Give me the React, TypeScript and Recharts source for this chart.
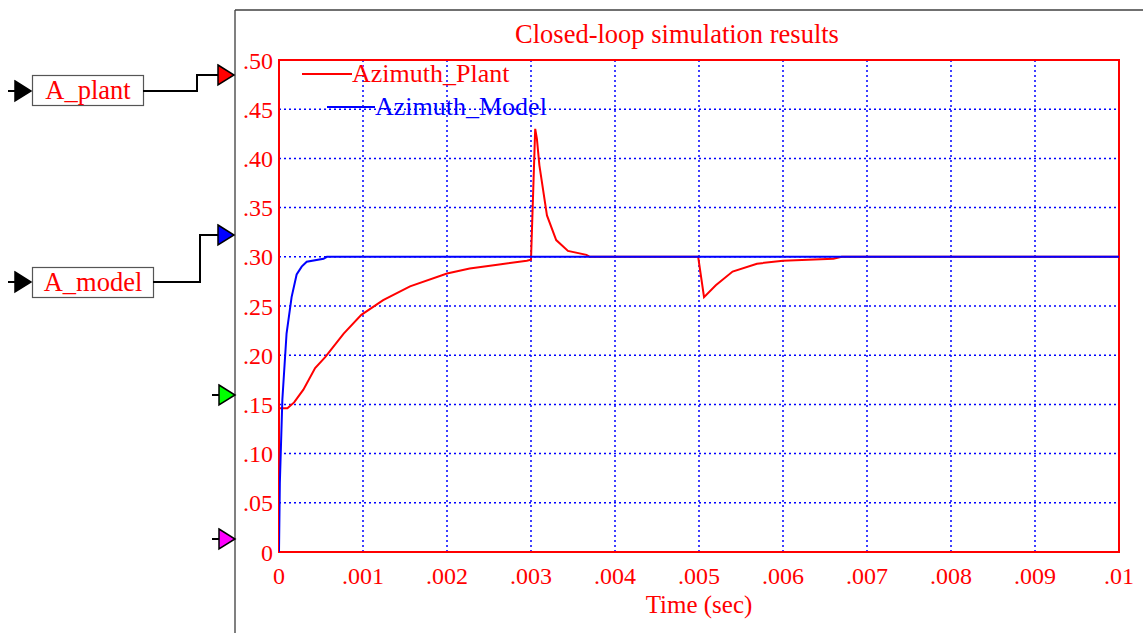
import React from "react";
import {
  LineChart,
  Line,
  XAxis,
  YAxis,
  CartesianGrid,
  ReferenceArea,
  Legend,
} from "recharts";

// Azimuth_Plant: (t in s, value)
const plantT = [
  0, 0, 0.0001, 0.00018, 0.00029, 0.00043, 0.00055, 0.00077, 0.00098, 0.00124,
  0.00156, 0.002, 0.00227, 0.0026, 0.00295, 0.003, 0.00305, 0.00307, 0.0031,
  0.00319, 0.0033, 0.00344, 0.00366, 0.0037, 0.00499, 0.00506, 0.0052, 0.0054,
  0.00569, 0.006, 0.0066, 0.0067, 0.01,
];
const plantV = [
  0, 0.146, 0.146, 0.152, 0.165, 0.187, 0.198, 0.222, 0.241, 0.256, 0.27,
  0.283, 0.288, 0.292, 0.296, 0.297, 0.43, 0.42, 0.393, 0.342, 0.317, 0.306,
  0.302, 0.3, 0.3, 0.259, 0.271, 0.285, 0.293, 0.296, 0.298, 0.3, 0.3,
];

// Azimuth_Model
const modelT = [
  0, 0.00001, 0.00004, 0.00009, 0.00015, 0.00021, 0.00027, 0.00033, 0.00053,
  0.00057, 0.01,
];
const modelV = [0, 0.07, 0.155, 0.222, 0.259, 0.282, 0.29, 0.295, 0.298, 0.3, 0.3];

const xTicks = [0, 0.001, 0.002, 0.003, 0.004, 0.005, 0.006, 0.007, 0.008, 0.009, 0.01];
const xLabels = ["0", ".001", ".002", ".003", ".004", ".005", ".006", ".007", ".008", ".009", ".01"];
const yTicks = [0, 0.05, 0.1, 0.15, 0.2, 0.25, 0.3, 0.35, 0.4, 0.45, 0.5];
const yLabels = ["0", ".05", ".10", ".15", ".20", ".25", ".30", ".35", ".40", ".45", ".50"];

const plantData = plantT.map((t, i) => ({ t, v: plantV[i] }));
const modelData = modelT.map((t, i) => ({ t, v: modelV[i] }));

const FONT = "'Liberation Serif', 'Times New Roman', serif";
const RED = "#ff0000";
const BLUE = "#0000ff";

const W = 1143;
const H = 633;

function LegendBox() {
  return (
    <svg width={W} height={130} style={{ display: "block" }}>
      <line x1={302} y1={74} x2={352} y2={74} stroke={RED} strokeWidth={2} />
      <text x={352} y={82} fill={RED} fontFamily={FONT} fontSize={26}>
        Azimuth_Plant
      </text>
      <line x1={327} y1={107} x2={375} y2={107} stroke={BLUE} strokeWidth={2} />
      <text x={375} y={115} fill={BLUE} fontFamily={FONT} fontSize={26}>
        Azimuth_Model
      </text>
    </svg>
  );
}

function Port({ x, y, fill, lead }: { x: number; y: number; fill: string; lead: boolean }) {
  return (
    <g>
      {lead && <line x1={x - 7} y1={y} x2={x} y2={y} stroke="#000" strokeWidth={2} />}
      <polygon
        points={`${x},${y - 10} ${x + 16},${y} ${x},${y + 10}`}
        fill={fill}
        stroke="#000"
        strokeWidth={1.5}
      />
    </g>
  );
}

function Diagram() {
  return (
    <svg
      width={W}
      height={H}
      style={{ position: "absolute", left: 0, top: 0, pointerEvents: "none" }}
    >
      {/* scope frame */}
      <line x1={235} y1={10} x2={235} y2={H} stroke="#808080" strokeWidth={2} />
      <line x1={235} y1={10} x2={W} y2={10} stroke="#404040" strokeWidth={1.5} />
      <text x={677} y={43} textAnchor="middle" fill={RED} fontFamily={FONT} fontSize={26.5}>
        Closed-loop simulation results
      </text>

      {/* A_plant */}
      <Port x={15} y={91} fill="#000" lead />
      <rect x={32.5} y={75.5} width={111} height={30} fill="#fff" stroke="#555" strokeWidth={1.2} />
      <text x={88} y={99} textAnchor="middle" fill={RED} fontFamily={FONT} fontSize={26.5}>
        A_plant
      </text>
      <polyline points="143,91 197,91 197,75 218,75" fill="none" stroke="#000" strokeWidth={2} />
      <Port x={218} y={75} fill={RED} lead={false} />

      {/* A_model */}
      <Port x={15} y={282} fill="#000" lead />
      <rect x={32.5} y={267.5} width={121} height={30} fill="#fff" stroke="#555" strokeWidth={1.2} />
      <text x={93} y={291} textAnchor="middle" fill={RED} fontFamily={FONT} fontSize={26.5}>
        A_model
      </text>
      <polyline points="153,282 200,282 200,235 218,235" fill="none" stroke="#000" strokeWidth={2} />
      <Port x={218} y={235} fill={BLUE} lead={false} />

      <Port x={219} y={395} fill="#00ff00" lead />
      <Port x={219} y={539} fill="#ff00ff" lead />
    </svg>
  );
}

export default function App() {
  return (
    <div style={{ position: "absolute", left: 0, top: 0, width: W, height: H, background: "#fff" }}>
      <LineChart
        width={W}
        height={H}
        margin={{ top: 60, right: 24, bottom: 0, left: 0 }}
      >
        <CartesianGrid
          stroke={BLUE}
          strokeDasharray="2 3"
          strokeWidth={1.5}
          horizontalValues={yTicks}
          verticalValues={xTicks}
        />
        <XAxis
          dataKey="t"
          type="number"
          domain={[0, 0.01]}
          ticks={xTicks}
          tickFormatter={(v, i) => xLabels[i]}
          axisLine={false}
          tickLine={false}
          tickSize={6}
          tickMargin={9}
          height={81}
          tick={{ fill: RED, fontFamily: FONT, fontSize: 24 }}
          interval={0}
          allowDataOverflow
          label={{
            value: "Time (sec)",
            position: "insideBottom",
            offset: 20,
            fill: RED,
            fontFamily: FONT,
            fontSize: 25,
          }}
        />
        <YAxis
          type="number"
          domain={[0, 0.5]}
          ticks={yTicks}
          tickFormatter={(v, i) => yLabels[i]}
          axisLine={false}
          tickLine={false}
          tickSize={6}
          tickMargin={0}
          width={279}
          interval={0}
          allowDataOverflow
          tick={{ fill: RED, fontFamily: FONT, fontSize: 24 }}
        />
        <ReferenceArea
          x1={0}
          x2={0.01}
          y1={0}
          y2={0.5}
          fill="none"
          stroke={RED}
          strokeWidth={2}
          fillOpacity={0}
        />
        <Legend
          layout="vertical"
          align="center"
          verticalAlign="middle"
          wrapperStyle={{ top: 0, left: 0, width: W, height: 130 }}
          content={() => <LegendBox />}
        />
        <Line
          data={plantData}
          dataKey="v"
          name="Azimuth_Plant"
          type="linear"
          stroke={RED}
          strokeWidth={2}
          dot={false}
          activeDot={false}
          isAnimationActive={false}
        />
        <Line
          data={modelData}
          dataKey="v"
          name="Azimuth_Model"
          type="linear"
          stroke={BLUE}
          strokeWidth={2}
          dot={false}
          activeDot={false}
          isAnimationActive={false}
        />
      </LineChart>
      <Diagram />
    </div>
  );
}
